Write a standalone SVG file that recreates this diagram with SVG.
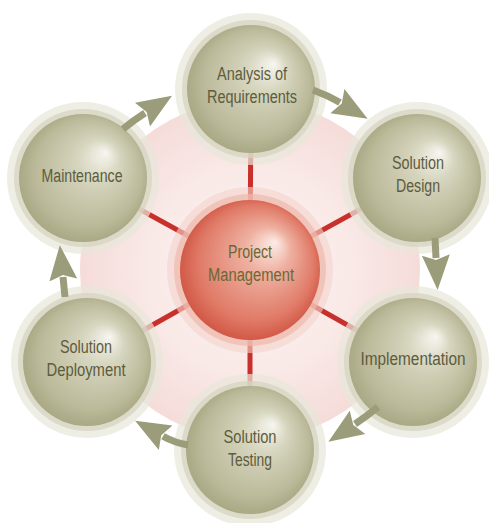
<svg xmlns="http://www.w3.org/2000/svg" width="489" height="523" viewBox="0 0 489 523">
<defs>
<radialGradient id="bg" cx="0.5" cy="0.5" r="0.5">
<stop offset="0" stop-color="#fdf6f4"/>
<stop offset="0.6" stop-color="#f9e9e7"/>
<stop offset="1" stop-color="#f5dcd9"/>
</radialGradient>
<radialGradient id="olive" cx="0.5" cy="0.5" r="0.55" fx="0.68" fy="0.3">
<stop offset="0" stop-color="#f7f6f0"/>
<stop offset="0.3" stop-color="#d6d5be"/>
<stop offset="0.75" stop-color="#bbba9a"/>
<stop offset="1" stop-color="#a4a37e"/>
</radialGradient>
<radialGradient id="red" cx="0.5" cy="0.5" r="0.55" fx="0.68" fy="0.3">
<stop offset="0" stop-color="#fcede7"/>
<stop offset="0.3" stop-color="#eeb0a0"/>
<stop offset="0.75" stop-color="#e07a67"/>
<stop offset="1" stop-color="#cd4c3b"/>
</radialGradient>
<marker id="ah" viewBox="0 -16 40 32" refX="3" refY="0" markerWidth="40" markerHeight="32" markerUnits="userSpaceOnUse" orient="auto">
<path d="M0,-14 L35,0 L0,14 L5,0 Z" fill="#9a9c7a"/>
</marker>
<style>
.halo{fill:#e8e7da;opacity:0.7}
.ring{fill:#d6d4c0;opacity:0.75}
.sph{fill:url(#olive)}
.rhalo{fill:#f4d3cc;opacity:0.6}
.rring{fill:#eeb9ad;opacity:0.7}
.rsph{fill:url(#red)}
.t{font-family:"Liberation Sans",Arial,sans-serif;font-size:18px;fill:#5d5c3e;text-anchor:middle}
.tc{font-family:"Liberation Sans",Arial,sans-serif;font-size:18px;fill:#6b6835;text-anchor:middle}
.spoke{stroke:#c9302c;stroke-width:5;fill:none}
.arr{stroke:#9a9c7a;stroke-width:7;fill:none;marker-end:url(#ah)}
</style>
</defs>
<circle cx="250" cy="270" r="170" fill="url(#bg)"/>
<g id="spokes">
<line class="spoke" x1="250" y1="270" x2="251" y2="89"/>
<line class="spoke" x1="250" y1="270" x2="417" y2="178"/>
<line class="spoke" x1="250" y1="270" x2="413" y2="362"/>
<line class="spoke" x1="250" y1="270" x2="250" y2="450"/>
<line class="spoke" x1="250" y1="270" x2="87" y2="362"/>
<line class="spoke" x1="250" y1="270" x2="83" y2="178"/>
</g>
<g id="center">
<circle class="rhalo" cx="250" cy="270" r="83"/>
<circle class="rring" cx="250" cy="270" r="76"/>
<circle class="rsph" cx="250" cy="270" r="70"/>
<text class="tc" x="250" y="258" textLength="44" lengthAdjust="spacingAndGlyphs">Project</text>
<text class="tc" x="251" y="281" textLength="86" lengthAdjust="spacingAndGlyphs">Management</text>
</g>
<g id="analysis">
<circle class="halo" cx="251" cy="89" r="76"/>
<circle class="ring" cx="251" cy="89" r="69"/>
<circle class="sph" cx="251" cy="89" r="64"/>
<text class="t" x="252" y="80" textLength="70" lengthAdjust="spacingAndGlyphs">Analysis of</text>
<text class="t" x="252" y="103" textLength="90" lengthAdjust="spacingAndGlyphs">Requirements</text>
</g>
<g id="design">
<circle class="halo" cx="417" cy="178" r="76"/>
<circle class="ring" cx="417" cy="178" r="69"/>
<circle class="sph" cx="417" cy="178" r="64"/>
<text class="t" x="418" y="169" textLength="52" lengthAdjust="spacingAndGlyphs">Solution</text>
<text class="t" x="418" y="192" textLength="44" lengthAdjust="spacingAndGlyphs">Design</text>
</g>
<g id="implementation">
<circle class="halo" cx="413" cy="362" r="76"/>
<circle class="ring" cx="413" cy="362" r="69"/>
<circle class="sph" cx="413" cy="362" r="64"/>
<text class="t" x="413" y="365" textLength="105" lengthAdjust="spacingAndGlyphs">Implementation</text>
</g>
<g id="testing">
<circle class="halo" cx="250" cy="450" r="76"/>
<circle class="ring" cx="250" cy="450" r="69"/>
<circle class="sph" cx="250" cy="450" r="64"/>
<text class="t" x="250" y="443" textLength="53" lengthAdjust="spacingAndGlyphs">Solution</text>
<text class="t" x="250" y="466" textLength="44" lengthAdjust="spacingAndGlyphs">Testing</text>
</g>
<g id="deployment">
<circle class="halo" cx="87" cy="362" r="76"/>
<circle class="ring" cx="87" cy="362" r="69"/>
<circle class="sph" cx="87" cy="362" r="64"/>
<text class="t" x="86" y="353" textLength="52" lengthAdjust="spacingAndGlyphs">Solution</text>
<text class="t" x="86" y="376" textLength="79" lengthAdjust="spacingAndGlyphs">Deployment</text>
</g>
<g id="maintenance">
<circle class="halo" cx="83" cy="178" r="76"/>
<circle class="ring" cx="83" cy="178" r="69"/>
<circle class="sph" cx="83" cy="178" r="64"/>
<text class="t" x="82" y="182" textLength="81" lengthAdjust="spacingAndGlyphs">Maintenance</text>
</g>
<g id="arrows">
<path class="arr" d="M123,129 Q134,120 145,113"/>
<path class="arr" d="M313,90 Q327,95 340,102.6"/>
<path class="arr" d="M435,238 L436,258"/>
<path class="arr" d="M378,407 Q367,416 355,424"/>
<path class="arr" d="M188,445 Q175,443 163,436.3"/>
<path class="arr" d="M65,297 L63,277"/>
</g>
</svg>
